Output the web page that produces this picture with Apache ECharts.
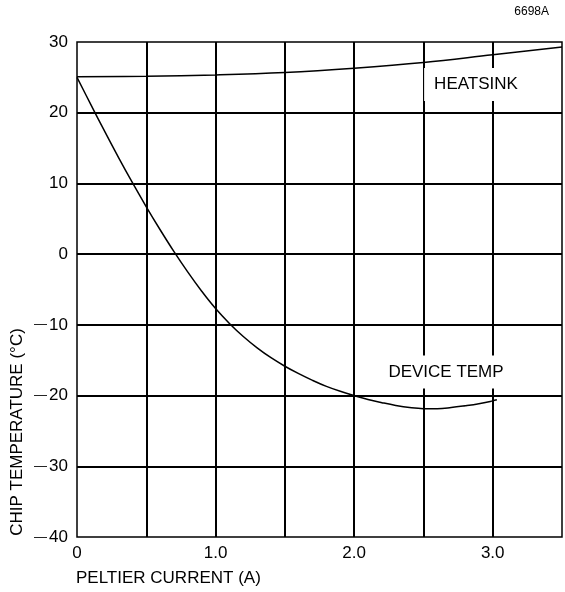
<!DOCTYPE html>
<html>
<head>
<meta charset="utf-8">
<script src="https://cdn.jsdelivr.net/npm/echarts@6/dist/echarts.min.js"></script>
<style>
html,body{margin:0;padding:0;background:#fff;}
#c{width:565px;height:592px;}
</style>
</head>
<body>
<div id="c"></div>
<script>
// Data
const heatsinkCurrent = [0, 0.5, 1.0, 1.5, 2.0, 2.5, 3.0, 3.5];
const heatsinkTemp    = [25.1, 25.15, 25.35, 25.7, 26.3, 27.1, 28.2, 29.3];

const deviceCurrent = [0, 0.1, 0.2, 0.3, 0.4, 0.5, 0.6, 0.7, 0.8, 0.9, 1.0, 1.1, 1.2, 1.3, 1.4, 1.5, 1.6, 1.7, 1.8, 1.9, 2.0, 2.1, 2.2, 2.3, 2.4, 2.5, 2.6, 2.7, 2.8, 2.9, 3.0, 3.03];
const deviceTemp    = [25, 21.15, 17.35, 13.65, 10.1, 6.7, 3.45, 0.35, -2.55, -5.25, -7.7, -9.8, -11.65, -13.25, -14.65, -15.85, -16.9, -17.85, -18.7, -19.4, -20.0, -20.55, -21.0, -21.4, -21.7, -21.85, -21.85, -21.7, -21.45, -21.15, -20.75, -20.6];

const xTickLabels = {0: '0', 1: '1.0', 2: '2.0', 3: '3.0'};
const labelHeatsink = 'HEATSINK';
const labelDevice = 'DEVICE TEMP';
const xName = 'PELTIER CURRENT (A)';
const yName = 'CHIP TEMPERATURE (\u00B0C)';
const figId = '6698A';

const FONT = '"Liberation Sans", Arial, Helvetica, sans-serif';
const pairs = (xs, ys) => xs.map((x, i) => [x, ys[i]]);

const chart = echarts.init(document.getElementById('c'), null, {renderer: 'canvas'});
chart.setOption({
  animation: false,
  backgroundColor: '#fff',
  grid: {left: 77, right: 3, top: 42, bottom: 55, show: true, borderColor: '#000', borderWidth: 1.5, containLabel: false},
  xAxis: {
    type: 'value', min: 0, max: 3.5, interval: 0.5,
    axisLine: {show: false}, axisTick: {show: false},
    splitLine: {show: true, showMinLine: false, showMaxLine: false, lineStyle: {color: '#000', width: 2}},
    axisLabel: {
      fontFamily: FONT, fontSize: 17, color: '#000', margin: 8,
      formatter: v => (xTickLabels[v] !== undefined ? xTickLabels[v] : '')
    }
  },
  yAxis: {
    type: 'value', min: -40, max: 30, interval: 10,
    axisLine: {show: false}, axisTick: {show: false},
    splitLine: {show: true, showMinLine: false, showMaxLine: false, lineStyle: {color: '#000', width: 2}},
    axisLabel: {
      fontFamily: FONT, fontSize: 17, color: '#000', margin: 9,
      formatter: v => (v < 0 ? '{d|\u2014}' + Math.abs(v) : String(v)),
      rich: {d: {fontFamily: FONT, fontSize: 13, color: '#000', padding: [0, 2, 0, 0]}}
    }
  },
  series: [
    {type: 'line', data: pairs(heatsinkCurrent, heatsinkTemp), smooth: 0.4, symbol: 'none',
     lineStyle: {color: '#000', width: 1.5}, z: 5},
    {type: 'line', data: pairs(deviceCurrent, deviceTemp), smooth: 0.4, symbol: 'none',
     lineStyle: {color: '#000', width: 1.5}, z: 5}
  ],
  graphic: [
    {type: 'text', z: 100, style: {text: labelHeatsink, x: 476, y: 84.5, textAlign: 'center', textVerticalAlign: 'middle',
      font: '17px ' + FONT, fill: '#000', backgroundColor: '#fff', padding: [8, 10]}},
    {type: 'text', z: 100, style: {text: labelDevice, x: 446, y: 372, textAlign: 'center', textVerticalAlign: 'middle',
      font: '17px ' + FONT, fill: '#000', backgroundColor: '#fff', padding: [8, 10]}},
    {type: 'text', z: 100, style: {text: xName, x: 76, y: 578, textAlign: 'left', textVerticalAlign: 'middle',
      font: '17px ' + FONT, fill: '#000'}},
    {type: 'text', z: 100, x: 17.5, y: 432, rotation: Math.PI / 2, style: {text: yName, x: 0, y: 0, textAlign: 'center', textVerticalAlign: 'middle',
      font: '17px ' + FONT, fill: '#000'}},
    {type: 'text', z: 100, style: {text: figId, x: 549, y: 12, textAlign: 'right', textVerticalAlign: 'middle',
      font: '12px ' + FONT, fill: '#000'}}
  ]
});
</script>
</body>
</html>
